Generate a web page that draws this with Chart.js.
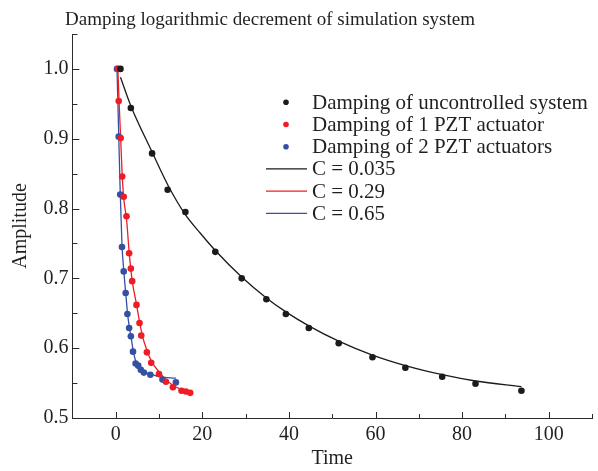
<!DOCTYPE html>
<html>
<head>
<meta charset="utf-8">
<script src="https://cdn.jsdelivr.net/npm/chart.js@4/dist/chart.umd.min.js"></script>
<style>
  html, body { margin: 0; padding: 0; background: #ffffff; }
  #wrap { width: 598px; height: 471px; position: relative; }
</style>
</head>
<body>
<div id="wrap"><canvas id="c"></canvas></div>
<script>
// ---- data ----
const uncontrolledTime = [1.1, 3.5, 8.4, 12.0, 16.1, 23.0, 29.1, 34.8, 39.3, 44.6, 51.5, 59.3, 66.9, 75.4, 83.1, 93.7];
const uncontrolledAmp  = [1.0, 0.944, 0.879, 0.827, 0.795, 0.738, 0.700, 0.670, 0.649, 0.629, 0.607, 0.587, 0.572, 0.559, 0.549, 0.539];

const onePztTime = [0.5, 0.7, 1.15, 1.5, 1.85, 2.5, 3.1, 3.5, 3.8, 4.8, 5.5, 5.9, 7.2, 8.2, 10.0, 11.6, 13.2, 15.2, 16.2, 17.2];
const onePztAmp  = [1.0, 0.954, 0.901, 0.846, 0.817, 0.789, 0.736, 0.714, 0.696, 0.662, 0.636, 0.618, 0.594, 0.579, 0.563, 0.552, 0.544, 0.539, 0.538, 0.536];

const twoPztTime = [0.3, 0.7, 1.05, 1.45, 1.85, 2.3, 2.7, 3.1, 3.5, 4.0, 4.6, 5.2, 5.8, 6.5, 8.0, 10.8, 13.9];
const twoPztAmp  = [1.0, 0.903, 0.820, 0.745, 0.710, 0.679, 0.649, 0.629, 0.617, 0.595, 0.578, 0.575, 0.569, 0.565, 0.562, 0.555, 0.551];

const fit035Time = [1.1, 3.5, 8.4, 12.1, 16.0, 19.5, 23.0, 29.1, 34.8, 39.3, 44.6, 51.5, 59.3, 66.9, 75.4, 83.1, 93.7];
const fit035Amp  = [0.988, 0.947, 0.881, 0.833, 0.792, 0.765, 0.740, 0.702, 0.672, 0.652, 0.632, 0.610, 0.590, 0.575, 0.562, 0.553, 0.545];

const fit029Time = [0.5, 0.8, 1.15, 1.5, 1.85, 2.5, 3.1, 3.8, 4.8, 5.5, 6.2, 7.2, 8.2, 10.0, 11.6, 13.2, 15.2, 17.2];
const fit029Amp  = [1.0, 0.95, 0.90, 0.848, 0.815, 0.785, 0.738, 0.697, 0.663, 0.638, 0.617, 0.597, 0.582, 0.566, 0.555, 0.547, 0.541, 0.537];

const fit065Time = [0.3, 0.7, 1.05, 1.45, 1.85, 2.3, 2.7, 3.1, 3.6, 4.0, 4.6, 5.5, 6.5, 8.0, 10.2, 13.9];
const fit065Amp  = [1.0, 0.905, 0.822, 0.748, 0.712, 0.680, 0.652, 0.632, 0.614, 0.598, 0.582, 0.572, 0.566, 0.563, 0.559, 0.557];

const seriesLabels = [
  'Damping of uncontrolled system',
  'Damping of 1 PZT actuator',
  'Damping of 2 PZT actuators',
  'C = 0.035',
  'C = 0.29',
  'C = 0.65'
];

const xTickLabels = [0, 20, 40, 60, 80, 100];
const xMinorTicks = [-10, 10, 30, 50, 70, 90, 110];
const yTickLabels = [0.5, 0.6, 0.7, 0.8, 0.9, 1.0];
const yMinorTicks = [0.55, 0.65, 0.75, 0.85, 0.95, 1.05];

const chartTitle = 'Damping logarithmic decrement of simulation system';
const xTitle = 'Time';
const yTitle = 'Amplitude';

// ---- helpers ----
function pts(xs, ys) { return xs.map((x, i) => ({ x: x, y: ys[i] })); }

const FONT = "'Liberation Serif', 'Times New Roman', serif";
const AXIS_COLOR = '#2b2b2b';
const TEXT_COLOR = '#231f20';

const COL_BLACK = '#1c1a1b';
const COL_RED = '#ee1c25';
const COL_BLUE = '#3550a2';

function pointSet(label, xs, ys, color) {
  return {
    label: label, data: pts(xs, ys), showLine: false,
    pointRadius: 3.3, pointBackgroundColor: color, pointBorderColor: color,
    pointBorderWidth: 0, backgroundColor: color, borderColor: color
  };
}
function lineSet(label, xs, ys, color) {
  return {
    label: label, data: pts(xs, ys), showLine: true, pointRadius: 0,
    borderColor: color, backgroundColor: color, borderWidth: 1.3,
    cubicInterpolationMode: 'monotone', fill: false
  };
}

const datasets = [
  pointSet(seriesLabels[0], uncontrolledTime, uncontrolledAmp, COL_BLACK),
  pointSet(seriesLabels[1], onePztTime, onePztAmp, COL_RED),
  pointSet(seriesLabels[2], twoPztTime, twoPztAmp, COL_BLUE),
  lineSet(seriesLabels[3], fit035Time, fit035Amp, COL_BLACK),
  lineSet(seriesLabels[4], fit029Time, fit029Amp, COL_RED),
  lineSet(seriesLabels[5], fit065Time, fit065Amp, COL_BLUE)
];

// inward tick marks drawn with the library's scales
const innerTicks = {
  id: 'innerTicks',
  afterDatasetsDraw(chart) {
    const ctx = chart.ctx;
    const xs = chart.scales.x, ys = chart.scales.y;
    const bottom = chart.chartArea.bottom, left = chart.chartArea.left;
    ctx.save();
    ctx.strokeStyle = AXIS_COLOR;
    ctx.lineWidth = 1;
    ctx.beginPath();
    xTickLabels.forEach(v => { const p = Math.round(xs.getPixelForValue(v)) + 0.5; ctx.moveTo(p, bottom); ctx.lineTo(p, bottom - 6); });
    xMinorTicks.forEach(v => { const p = Math.round(xs.getPixelForValue(v)) + 0.5; ctx.moveTo(p, bottom); ctx.lineTo(p, bottom - 4); });
    yTickLabels.forEach(v => { const p = Math.round(ys.getPixelForValue(v)) + 0.5; ctx.moveTo(left, p); ctx.lineTo(left + 7, p); });
    yMinorTicks.forEach(v => { const p = Math.round(ys.getPixelForValue(v)) + 0.5; ctx.moveTo(left, p); ctx.lineTo(left + 5, p); });
    ctx.stroke();
    ctx.restore();
  }
};

// title and legend drawn as canvas text
const titleAndLegend = {
  id: 'titleAndLegend',
  afterDraw(chart) {
    const ctx = chart.ctx;
    ctx.save();
    // title
    ctx.font = "19px " + FONT;
    ctx.fillStyle = TEXT_COLOR;
    ctx.textAlign = 'center';
    ctx.textBaseline = 'alphabetic';
    ctx.fillText(chartTitle, 270, 25);

    // legend
    const startY = 102.3, rowH = 22.2;
    const markerX = 286, lineX0 = 266, lineX1 = 307, textX = 312;
    ctx.font = "21px " + FONT;
    ctx.textBaseline = 'middle';
    ctx.textAlign = 'left';
    chart.data.datasets.forEach((ds, i) => {
      const y = startY + i * rowH;
      if (ds.showLine) {
        ctx.strokeStyle = ds.borderColor;
        ctx.lineWidth = 1.3;
        ctx.beginPath();
        ctx.moveTo(lineX0, y);
        ctx.lineTo(lineX1, y);
        ctx.stroke();
      } else {
        ctx.fillStyle = ds.pointBackgroundColor;
        ctx.beginPath();
        ctx.arc(markerX, y, 2.8, 0, Math.PI * 2);
        ctx.fill();
      }
      ctx.fillStyle = TEXT_COLOR;
      ctx.fillText(ds.label, textX, y + 1);
    });
    ctx.restore();
  }
};

new Chart(document.getElementById('c'), {
  type: 'scatter',
  data: { datasets: datasets },
  plugins: [innerTicks, titleAndLegend],
  options: {
    responsive: true,
    maintainAspectRatio: false,
    animation: false,
    layout: { padding: { left: 0, right: 6, top: 34, bottom: 0 } },
    plugins: {
      legend: { display: false },
      tooltip: { enabled: false },
      title: { display: false }
    },
    scales: {
      x: {
        type: 'linear',
        position: 'bottom',
        min: -10,
        max: 110,
        afterBuildTicks(scale) { scale.ticks = xTickLabels.map(v => ({ value: v })); },
        afterFit(scale) { scale.height = 53; },
        grid: { display: false, drawTicks: false },
        border: { display: true, color: AXIS_COLOR, width: 1 },
        ticks: {
          color: TEXT_COLOR,
          font: { family: FONT, size: 20 },
          padding: 5,
          maxRotation: 0,
          autoSkip: false,
          callback: v => String(v)
        },
        title: {
          display: true,
          text: xTitle,
          color: TEXT_COLOR,
          font: { family: FONT, size: 20, lineHeight: 1.2 },
          padding: { top: 0, bottom: 0 }
        }
      },
      y: {
        type: 'linear',
        position: 'left',
        min: 0.5,
        max: 1.05,
        afterBuildTicks(scale) { scale.ticks = yTickLabels.map(v => ({ value: v })); },
        afterFit(scale) { scale.width = 72.4; },
        grid: { display: false, drawTicks: false },
        border: { display: true, color: AXIS_COLOR, width: 1 },
        ticks: {
          color: TEXT_COLOR,
          font: { family: FONT, size: 20 },
          padding: 4,
          autoSkip: false,
          callback: v => Number(v).toFixed(1)
        },
        title: {
          display: true,
          text: yTitle,
          color: TEXT_COLOR,
          font: { family: FONT, size: 20, lineHeight: 1.2 },
          padding: { top: 9, bottom: 0 }
        }
      }
    }
  }
});
</script>
</body>
</html>
